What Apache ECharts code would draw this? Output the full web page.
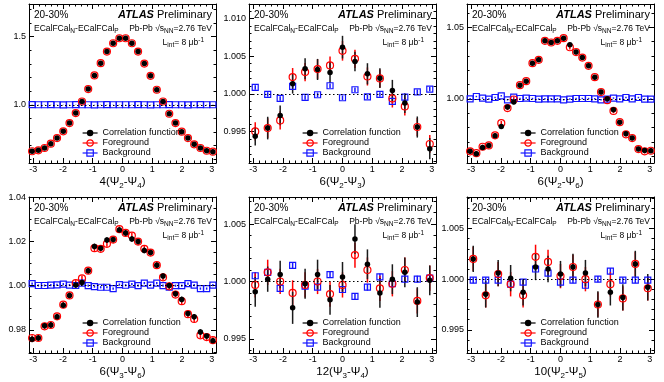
<!DOCTYPE html>
<html>
<head>
<meta charset="utf-8">
<script src="https://cdn.jsdelivr.net/npm/echarts@6/dist/echarts.min.js"></script>
<style>
  html, body { margin: 0; padding: 0; background: #fff; }
  #chart { width: 664px; height: 382px; }
</style>
</head>
<body>
<div id="chart"></div>
<script>
// bin centres (30 and 15 bins over -pi..pi)
const bins30 = [-3.0369, -2.8274, -2.6180, -2.4086, -2.1991, -1.9897, -1.7802, -1.5708, -1.3614, -1.1519,
  -0.9425, -0.7330, -0.5236, -0.3142, -0.1047, 0.1047, 0.3142, 0.5236, 0.7330, 0.9425,
  1.1519, 1.3614, 1.5708, 1.7802, 1.9897, 2.1991, 2.4086, 2.6180, 2.8274, 3.0369]
const bins15 = [-2.9322, -2.5133, -2.0944, -1.6755, -1.2566, -0.8378, -0.4189, 0, 0.4189, 0.8378,
  1.2566, 1.6755, 2.0944, 2.5133, 2.9322]

// 4(Psi2-Psi4)
const p1Corr = [0.659, 0.666, 0.683, 0.715, 0.756, 0.805, 0.866, 0.939, 1.024, 1.115, 1.215, 1.305, 1.390, 1.451, 1.488,
  1.488, 1.451, 1.390, 1.302, 1.212, 1.110, 1.024, 0.934, 0.866, 0.803, 0.756, 0.710, 0.683, 0.663, 0.656]
const p1CorrErr = [0.003, 0.003, 0.003, 0.003, 0.003, 0.003, 0.003, 0.003, 0.003, 0.003, 0.003, 0.003, 0.003, 0.003, 0.003,
  0.003, 0.003, 0.003, 0.003, 0.003, 0.003, 0.003, 0.003, 0.003, 0.003, 0.003, 0.003, 0.003, 0.003, 0.003]
const p1Fg = [0.659, 0.666, 0.683, 0.715, 0.756, 0.805, 0.866, 0.939, 1.024, 1.115, 1.215, 1.305, 1.390, 1.451, 1.488,
  1.488, 1.451, 1.390, 1.302, 1.212, 1.110, 1.024, 0.934, 0.866, 0.803, 0.756, 0.710, 0.683, 0.663, 0.656]
const p1FgErr = p1CorrErr
const p1Bg = [1.001, 1.000, 1.000, 1.001, 1.000, 0.999, 1.000, 1.001, 1.000, 1.000, 0.999, 1.000, 1.001, 1.000, 1.000,
  1.000, 1.000, 1.001, 1.000, 0.999, 1.000, 1.000, 1.001, 1.000, 1.000, 0.999, 1.000, 1.001, 1.000, 1.000]
const p1BgErr = [0.001, 0.001, 0.001, 0.001, 0.001, 0.001, 0.001, 0.001, 0.001, 0.001, 0.001, 0.001, 0.001, 0.001, 0.001,
  0.001, 0.001, 0.001, 0.001, 0.001, 0.001, 0.001, 0.001, 0.001, 0.001, 0.001, 0.001, 0.001, 0.001, 0.001]

// 6(Psi2-Psi3)
const p2Corr = [0.99435, 0.99545, 0.99713, 1.00132, 1.00331, 1.00322, 1.00282, 1.00618, 1.00428, 1.00265, 1.00207, 1.00044, 0.99876, 0.99559, 0.99272]
const p2CorrErr = [0.0012, 0.0015, 0.0013, 0.0013, 0.0014, 0.0014, 0.0014, 0.0015, 0.0013, 0.0014, 0.0013, 0.0014, 0.0013, 0.0014, 0.0014]
const p2Fg = [0.99501, 0.99545, 0.99647, 1.00221, 1.00287, 1.00327, 1.00375, 1.00569, 1.00463, 1.00229, 1.00203, 0.99938, 0.99832, 0.99559, 0.99334]
const p2FgErr = [0.0012, 0.0013, 0.0012, 0.0012, 0.0012, 0.0013, 0.0012, 0.0013, 0.0012, 0.0012, 0.0012, 0.0012, 0.0012, 0.0012, 0.0012]
const p2Bg = [1.00084, 0.99991, 0.99938, 1.00097, 0.99951, 0.99987, 1.00106, 0.99947, 1.00053, 0.99960, 0.99991, 0.99898, 0.99956, 1.00026, 1.00062]
const p2BgErr = [0.0003, 0.0003, 0.0003, 0.0003, 0.0003, 0.0003, 0.0003, 0.0003, 0.0003, 0.0003, 0.0003, 0.0003, 0.0003, 0.0003, 0.0003]

// 6(Psi2-Psi6)
const p3Corr = [0.9633, 0.9616, 0.9660, 0.9674, 0.9742, 0.9807, 0.9942, 0.9977, 1.0095, 1.0123, 1.0249, 1.0272, 1.0405, 1.0393, 1.0405,
  1.0423, 1.0377, 1.0326, 1.0288, 1.0230, 1.0151, 1.0047, 1.0000, 0.9923, 0.9837, 0.9756, 0.9726, 0.9649, 0.9639, 0.9637]
const p3CorrErr = [0.0015, 0.0015, 0.0015, 0.0015, 0.0015, 0.0015, 0.0015, 0.0015, 0.0015, 0.0015, 0.0015, 0.0015, 0.0015, 0.0015, 0.0015,
  0.0015, 0.0015, 0.0015, 0.0015, 0.0015, 0.0015, 0.0015, 0.0015, 0.0015, 0.0015, 0.0015, 0.0015, 0.0015, 0.0015, 0.0015]
const p3Fg = [0.9633, 0.9620, 0.9665, 0.9674, 0.9745, 0.9830, 0.9935, 0.9995, 1.0095, 1.0123, 1.0249, 1.0272, 1.0405, 1.0393, 1.0405,
  1.0423, 1.0360, 1.0326, 1.0288, 1.0230, 1.0151, 1.0047, 0.9990, 0.9915, 0.9837, 0.9752, 0.9726, 0.9649, 0.9633, 0.9637]
const p3FgErr = p3CorrErr
const p3Bg = [1.0000, 1.0016, 1.0005, 0.9998, 1.0009, 1.0021, 0.9993, 1.0012, 1.0002, 1.0005, 1.0002, 0.9998, 1.0000, 1.0000, 1.0000,
  0.9993, 0.9998, 1.0002, 1.0002, 1.0002, 1.0000, 0.9993, 0.9998, 1.0005, 1.0000, 1.0009, 1.0000, 1.0009, 0.9998, 0.9998]
const p3BgErr = [0.0005, 0.0005, 0.0005, 0.0005, 0.0005, 0.0005, 0.0005, 0.0005, 0.0005, 0.0005, 0.0005, 0.0005, 0.0005, 0.0005, 0.0005,
  0.0005, 0.0005, 0.0005, 0.0005, 0.0005, 0.0005, 0.0005, 0.0005, 0.0005, 0.0005, 0.0005, 0.0005, 0.0005, 0.0005, 0.0005]

// 6(Psi3-Psi6)
const p4Corr = [0.9757, 0.9763, 0.9819, 0.9822, 0.9859, 0.9911, 0.9956, 1.0003, 1.0015, 1.0068, 1.0178, 1.0170, 1.0207, 1.0209, 1.0252,
  1.0239, 1.0212, 1.0200, 1.0160, 1.0151, 1.0093, 1.0044, 1.0001, 0.9964, 0.9938, 0.9874, 0.9859, 0.9790, 0.9772, 0.9750]
const p4CorrErr = [0.0013, 0.0013, 0.0013, 0.0013, 0.0013, 0.0013, 0.0013, 0.0013, 0.0013, 0.0013, 0.0013, 0.0013, 0.0013, 0.0013, 0.0013,
  0.0013, 0.0013, 0.0013, 0.0013, 0.0013, 0.0013, 0.0013, 0.0013, 0.0013, 0.0013, 0.0013, 0.0013, 0.0013, 0.0013, 0.0013]
const p4Fg = [0.9763, 0.9763, 0.9816, 0.9822, 0.9861, 0.9914, 0.9956, 1.0012, 1.0033, 1.0068, 1.0170, 1.0167, 1.0190, 1.0209, 1.0256,
  1.0239, 1.0227, 1.0200, 1.0167, 1.0150, 1.0093, 1.0038, 0.9997, 0.9960, 0.9930, 0.9871, 0.9849, 0.9775, 0.9767, 0.9753]
const p4FgErr = p4CorrErr
const p4Bg = [1.0009, 1.0001, 1.0001, 1.0003, 1.0004, 1.0007, 1.0003, 1.0001, 1.0012, 1.0000, 0.9996, 0.9993, 0.9993, 0.9987, 1.0005,
  1.0002, 1.0007, 1.0000, 1.0012, 1.0003, 1.0012, 1.0000, 0.9993, 1.0000, 1.0000, 1.0009, 1.0003, 0.9987, 0.9987, 1.0003]
const p4BgErr = p3BgErr

// 12(Psi3-Psi4)
const p5Corr = [0.9991, 1.0002, 1.0006, 0.9977, 0.9998, 1.0006, 0.9984, 1.0004, 1.0037, 1.0015, 0.9990, 1.0002, 1.0008, 0.9982, 1.0001]
const p5CorrErr = [0.0013, 0.0011, 0.0012, 0.0014, 0.0013, 0.0013, 0.0013, 0.0013, 0.0013, 0.0013, 0.0013, 0.0013, 0.0013, 0.0013, 0.0013]
const p5Fg = [0.9997, 1.0008, 1.0000, 0.9990, 0.9997, 1.0000, 0.9989, 0.9997, 1.0023, 1.0010, 0.9994, 0.9998, 1.0010, 0.9983, 1.0003]
const p5FgErr = [0.0011, 0.0011, 0.0011, 0.0011, 0.0011, 0.0011, 0.0011, 0.0011, 0.0011, 0.0011, 0.0011, 0.0011, 0.0011, 0.0011, 0.0011]
const p5Bg = [1.0005, 1.0008, 0.9994, 1.0014, 0.9996, 0.9995, 1.0006, 0.9993, 0.9987, 0.9995, 1.0004, 0.9998, 1.0002, 1.0002, 1.0003]
const p5BgErr = p2BgErr

// 10(Psi2-Psi5)
const p6Corr = [1.0020, 0.9985, 1.0006, 1.0001, 0.9987, 1.0012, 1.0010, 1.0005, 1.0012, 1.0006, 0.9975, 0.9987, 0.9982, 1.0015, 0.9992]
const p6CorrErr = [0.0013, 0.0013, 0.0013, 0.0013, 0.0013, 0.0013, 0.0013, 0.0013, 0.0013, 0.0013, 0.0013, 0.0013, 0.0013, 0.0013, 0.0013]
const p6Fg = [1.0020, 0.9984, 1.0005, 0.9995, 0.9984, 1.0022, 1.0017, 1.0003, 1.0012, 1.0000, 0.9975, 0.9995, 0.9981, 1.0015, 0.9991]
const p6FgErr = [0.0012, 0.0012, 0.0012, 0.0012, 0.0012, 0.0012, 0.0012, 0.0012, 0.0012, 0.0012, 0.0012, 0.0012, 0.0012, 0.0012, 0.0012]
const p6Bg = [0.9999, 0.9999, 0.9999, 0.9995, 0.9997, 1.0010, 1.0006, 0.9997, 0.9999, 0.9994, 1.0000, 1.0008, 0.9999, 0.9999, 0.9999]
const p6BgErr = p2BgErr

// axis titles: [harmonic, first psi index, second psi index]
const xTitles = [['4', '2', '4'], ['6', '2', '3'], ['6', '2', '6'], ['6', '3', '6'], ['12', '3', '4'], ['10', '2', '5']]
const legendNames = ['Correlation function', 'Foreground', 'Background']

const FONT = '"Liberation Sans", Arial, Helvetica, sans-serif'

const panels = [
  { x: bins30, c: p1Corr, ce: p1CorrErr, f: p1Fg, fe: p1FgErr, b: p1Bg, be: p1BgErr, min: 0.573, max: 1.739, split: 2, minor: 5, dig: 1 },
  { x: bins15, c: p2Corr, ce: p2CorrErr, f: p2Fg, fe: p2FgErr, b: p2Bg, be: p2BgErr, min: 0.99082, max: 1.0119, split: 4, minor: 5, dig: 3 },
  { x: bins30, c: p3Corr, ce: p3CorrErr, f: p3Fg, fe: p3FgErr, b: p3Bg, be: p3BgErr, min: 0.95516, max: 1.0662, split: 2, minor: 5, dig: 2 },
  { x: bins30, c: p4Corr, ce: p4CorrErr, f: p4Fg, fe: p4FgErr, b: p4Bg, be: p4BgErr, min: 0.9695, max: 1.0402, split: 3, minor: 4, dig: 2 },
  { x: bins15, c: p5Corr, ce: p5CorrErr, f: p5Fg, fe: p5FgErr, b: p5Bg, be: p5BgErr, min: 0.99376, max: 1.00737, split: 3, minor: 5, dig: 3 },
  { x: bins15, c: p6Corr, ce: p6CorrErr, f: p6Fg, fe: p6FgErr, b: p6Bg, be: p6BgErr, min: 0.99271, max: 1.00811, split: 3, minor: 5, dig: 3 }
]

// frame boxes of the six pads
const boxes = [
  { left: 29, top: 4, width: 187, height: 159 },
  { left: 249, top: 4, width: 187, height: 159 },
  { left: 467, top: 4, width: 187, height: 159 },
  { left: 29, top: 197, width: 187, height: 156 },
  { left: 249, top: 197, width: 187, height: 156 },
  { left: 467, top: 197, width: 187, height: 156 }
]

const RED = '#ff0000'
const BLUE = '#1414ff'
const BLACK = '#000000'

function frameAxis (extra) {
  return Object.assign({
    type: 'value',
    splitLine: { show: false },
    axisLine: { show: true, onZero: false, lineStyle: { color: '#000', width: 1 } },
    axisTick: { show: true, inside: true, length: 5, lineStyle: { color: '#000', width: 1 } },
    minorTick: { show: true, splitNumber: 5, length: 2.5, lineStyle: { color: '#000', width: 1 } }
  }, extra)
}

function errorBars (g, xs, ys, es, color) {
  return {
    type: 'custom',
    xAxisIndex: 2 * g,
    yAxisIndex: 2 * g,
    silent: true,
    data: xs.map((x, i) => [x, ys[i], es[i]]),
    renderItem (params, api) {
      const x = api.value(0)
      const y = api.value(1)
      const e = api.value(2)
      const lo = api.coord([x, y - e])
      const hi = api.coord([x, y + e])
      return {
        type: 'line',
        shape: { x1: lo[0], y1: lo[1], x2: hi[0], y2: hi[1] },
        style: { stroke: color, lineWidth: 1.5 }
      }
    }
  }
}

function markers (g, name, xs, ys, color, symbol, size, itemStyle, extra) {
  return Object.assign({
    type: 'line',
    name,
    xAxisIndex: 2 * g,
    yAxisIndex: 2 * g,
    data: xs.map((x, i) => [x, ys[i]]),
    symbol,
    symbolSize: size,
    showSymbol: true,
    lineStyle: { width: 0, color },
    itemStyle,
    emphasis: { disabled: true }
  }, extra)
}

const grid = []
const xAxis = []
const yAxis = []
const series = []
const legend = []
const graphic = []

const titleRich = {
  t: { fontSize: 11.5, lineHeight: 16, color: '#000', fontFamily: FONT },
  s: { fontSize: 8, lineHeight: 9, verticalAlign: 'bottom', color: '#000', fontFamily: FONT }
}

panels.forEach((p, g) => {
  const b = boxes[g]
  grid.push({ left: b.left, top: b.top, width: b.width, height: b.height, containLabel: false })

  const tt = xTitles[g]
  const xBase = { gridIndex: g, min: -Math.PI, max: Math.PI, splitNumber: 6 }
  xAxis.push(frameAxis(Object.assign({}, xBase, {
    position: 'bottom',
    axisLabel: {
      show: true, margin: 2, fontSize: 9, color: '#000', fontFamily: FONT,
      showMinLabel: false, showMaxLabel: false,
      formatter: v => String(Math.round(v))
    },
    name: '{t|' + tt[0] + '(Ψ}{s|' + tt[1] + '}{t|-Ψ}{s|' + tt[2] + '}{t|)}',
    nameLocation: 'middle',
    nameGap: 11,
    nameTextStyle: { rich: titleRich }
  })))
  xAxis.push(frameAxis(Object.assign({}, xBase, { position: 'top', axisLabel: { show: false } })))

  const yBase = { gridIndex: g, min: p.min, max: p.max, splitNumber: p.split }
  const yMinor = { show: true, splitNumber: p.minor, length: 2.5, lineStyle: { color: '#000', width: 1 } }
  yAxis.push(frameAxis(Object.assign({}, yBase, {
    position: 'left',
    minorTick: yMinor,
    axisLabel: {
      show: true, margin: 3, fontSize: 9, color: '#000', fontFamily: FONT,
      showMinLabel: false, showMaxLabel: false,
      formatter: v => v.toFixed(p.dig)
    }
  })))
  yAxis.push(frameAxis(Object.assign({}, yBase, { position: 'right', minorTick: yMinor, axisLabel: { show: false } })))

  // background, foreground, correlation function
  series.push(errorBars(g, p.x, p.b, p.be, BLUE))
  series.push(markers(g, 'Background', p.x, p.b, BLUE, 'rect', 6,
    { color: 'rgba(255,255,255,0)', borderColor: BLUE, borderWidth: 1.2 }, {
      markLine: {
        silent: true, symbol: 'none', animation: false,
        label: { show: false },
        lineStyle: { color: '#000', type: [1.5, 2.5], width: 1 },
        data: [{ yAxis: 1 }]
      }
    }))
  series.push(errorBars(g, p.x, p.f, p.fe, RED))
  series.push(markers(g, 'Foreground', p.x, p.f, RED, 'circle', 7,
    { color: 'rgba(255,255,255,0)', borderColor: RED, borderWidth: 1.2 }))
  series.push(errorBars(g, p.x, p.c, p.ce, '#1a1a1a'))
  series.push(markers(g, 'Correlation function', p.x, p.c, BLACK, 'circle', 5.5, { color: BLACK }))

  legend.push({
    data: legendNames,
    orient: 'vertical',
    left: b.left + 53,
    top: b.top + b.height - 35,
    padding: 0,
    itemWidth: 15,
    itemHeight: 8,
    itemGap: 0,
    selectedMode: false,
    lineStyle: { width: 1.2 },
    itemStyle: { borderWidth: 1.2 },
    textStyle: { fontSize: 9, lineHeight: 10, color: '#000', fontFamily: FONT }
  })

  const x0 = b.left
  const x1 = b.left + b.width
  const y0 = b.top
  const sub = { fontSize: 6.5, lineHeight: 7, verticalAlign: 'bottom', fontFamily: FONT, fill: '#000', color: '#000' }
  const sup = { fontSize: 6.5, lineHeight: 7, verticalAlign: 'top', fontFamily: FONT, fill: '#000', color: '#000' }
  const main = { fontSize: 8.5, lineHeight: 12, fontFamily: FONT, fill: '#000', color: '#000' }
  graphic.push(
    { type: 'text', x: x0 + 5, y: y0 + 11, silent: true,
      style: { text: '20-30%', fontSize: 10, fontFamily: FONT, fill: '#000', verticalAlign: 'middle', align: 'left' } },
    { type: 'text', x: x1 - 4, y: y0 + 11, silent: true,
      style: {
        text: '{a|ATLAS} {p|Preliminary}', align: 'right', verticalAlign: 'middle', fontFamily: FONT, fontSize: 11, fill: '#000',
        rich: {
          a: { fontSize: 11, fontWeight: 'bold', fontStyle: 'italic', fontFamily: FONT, fill: '#000', color: '#000' },
          p: { fontSize: 11, fontFamily: FONT, fill: '#000', color: '#000' }
        }
      } },
    { type: 'text', x: x0 + 5, y: y0 + 25, silent: true,
      style: {
        text: '{m|ECalFCal}{s|N}{m|-ECalFCal}{s|P}', align: 'left', verticalAlign: 'middle', fontFamily: FONT, fontSize: 8.5, fill: '#000',
        rich: { m: main, s: sub }
      } },
    { type: 'text', x: x1 - 4, y: y0 + 25, silent: true,
      style: {
        text: '{m|Pb-Pb √s}{s|NN}{m|=2.76 TeV}', align: 'right', verticalAlign: 'middle', fontFamily: FONT, fontSize: 8.5, fill: '#000',
        rich: { m: main, s: sub }
      } },
    { type: 'text', x: x1 - 12, y: y0 + 39, silent: true,
      style: {
        text: '{m|L}{s|int}{m|= 8 μb}{u|-1}', align: 'right', verticalAlign: 'middle', fontFamily: FONT, fontSize: 8.5, fill: '#000',
        rich: { m: main, s: sub, u: sup }
      } }
  )
})

const chart = echarts.init(document.getElementById('chart'), null, { renderer: 'canvas' })
chart.setOption({
  backgroundColor: '#fff',
  animation: false,
  textStyle: { fontFamily: FONT },
  grid,
  xAxis,
  yAxis,
  legend,
  graphic,
  series
})
</script>
</body>
</html>
